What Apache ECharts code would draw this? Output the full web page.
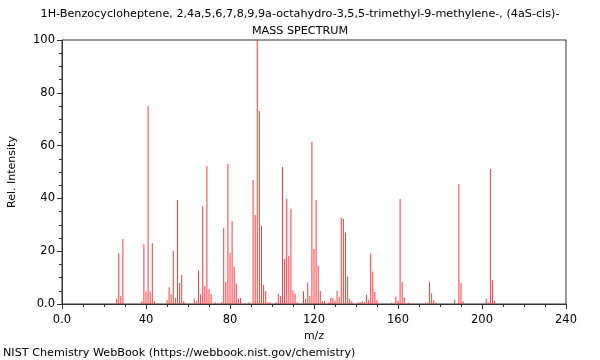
<!DOCTYPE html>
<html>
<head>
<meta charset="utf-8">
<script src="https://cdn.jsdelivr.net/npm/echarts@6/dist/echarts.min.js"></script>
<style>html,body{margin:0;padding:0;background:#fff}#c{width:600px;height:360px}</style>
</head>
<body>
<div id="c"></div>
<script>
const titleLine1 = "1H-Benzocycloheptene, 2,4a,5,6,7,8,9,9a-octahydro-3,5,5-trimethyl-9-methylene-, (4aS-cis)-";
const titleLine2 = "MASS SPECTRUM";
const footer = "NIST Chemistry WebBook (https://webbook.nist.gov/chemistry)";
const xName = "m/z";
const yName = "Rel. Intensity";

const mz = [26,27,28,29,38,39,40,41,42,43,44,50,51,52,53,54,55,56,57,58,63,64,65,66,67,68,69,70,71,73,
  76,77,78,79,80,81,82,83,84,85,89,91,92,93,94,95,96,97,98,99,102,103,104,105,106,107,108,109,110,111,112,
  115,116,117,118,119,120,121,122,123,124,125,127,128,129,130,131,132,133,134,135,136,137,138,
  141,142,143,144,145,146,147,148,149,150,157,159,160,161,162,163,165,173,174,175,176,177,178,
  187,189,190,191,202,203,204,205,206];
const intensity = [2,19.2,3,24.6,1,22.6,4.7,75,4.7,23,1,1.5,6.3,3.7,20.2,2.4,39.4,8,11,1,2,1,12.7,3.7,37.1,6.8,52.3,5.7,3.9,0.7,
  0.7,28.7,8.3,53,19.4,31.4,14.1,7.8,2,2.3,0.7,47,33.7,100,73.1,29.5,7.2,4.9,0.7,0.7,0.7,3.8,3,51.9,17,39.9,18.3,36.1,5.2,3.9,0.7,
  4.8,2,8.1,3,61.5,20.8,39.4,14.4,4.9,1,1,0.7,2.4,2.4,1.3,5,2.7,32.7,32.3,27.1,10.4,2,1,
  0.7,0.7,1,0.7,3.4,1.5,19,12.3,4.5,1.5,0.5,2.7,1.3,39.8,8.3,2.5,0.5,0.5,0.5,8.2,4,1.5,0.5,
  1.5,45.5,8,1,2,0.5,51.1,9,1.3];

const xTicks = { min: 0, max: 240, interval: 40 };
const yTicks = { min: 0, max: 100, interval: 20 };

const chart = echarts.init(document.getElementById('c'), null, {renderer: 'canvas'});
const font = 'DejaVu Sans';
chart.setOption({
  animation: false,
  textStyle: { fontFamily: font },
  grid: { left: 62, right: 34, top: 40, bottom: 56, show: true, borderColor: '#333', borderWidth: 1,
    backgroundColor: 'transparent', containLabel: false, outerBoundsMode: 'none' },
  graphic: [
    { type: 'text', left: 'center', top: 9, style: { text: titleLine1, font: '11.2px "DejaVu Sans"', fill: '#000' } },
    { type: 'text', left: 'center', top: 26, style: { text: titleLine2, font: '11.2px "DejaVu Sans"', fill: '#000' } },
    { type: 'text', left: 3, top: 348, style: { text: footer, font: '11.2px "DejaVu Sans"', fill: '#000' } }
  ],
  xAxis: {
    type: 'value', min: xTicks.min, max: xTicks.max, interval: xTicks.interval,
    name: xName, nameLocation: 'middle', nameGap: 25,
    nameTextStyle: { fontSize: 11, color: '#000', fontFamily: font },
    axisLine: { show: true, lineStyle: { color: '#333', width: 1 } },
    axisTick: { show: true, length: 5, lineStyle: { color: '#333' } },
    minorTick: { show: true, splitNumber: 4, length: 3, lineStyle: { color: '#333' } },
    splitLine: { show: false },
    axisLabel: { fontSize: 11.5, color: '#000', margin: 10, fontFamily: font,
      formatter: v => v === 0 ? '0.0' : String(v) }
  },
  yAxis: {
    type: 'value', min: yTicks.min, max: yTicks.max, interval: yTicks.interval,
    name: yName, nameLocation: 'middle', nameGap: 44, nameRotate: 90,
    nameTextStyle: { fontSize: 11, color: '#000', fontFamily: font },
    axisLine: { show: true, lineStyle: { color: '#333', width: 1 } },
    axisTick: { show: true, length: 5, lineStyle: { color: '#333' } },
    minorTick: { show: true, splitNumber: 4, length: 3, lineStyle: { color: '#333' } },
    splitLine: { show: false },
    axisLabel: { fontSize: 11.5, color: '#000', margin: 7, fontFamily: font,
      formatter: v => v === 0 ? '0.0' : String(v) }
  },
  series: [{
    type: 'bar',
    barWidth: 1,
    itemStyle: { color: '#ff3b3b' },
    data: mz.map((m, i) => [m, intensity[i]])
  }]
});
</script>
</body>
</html>
